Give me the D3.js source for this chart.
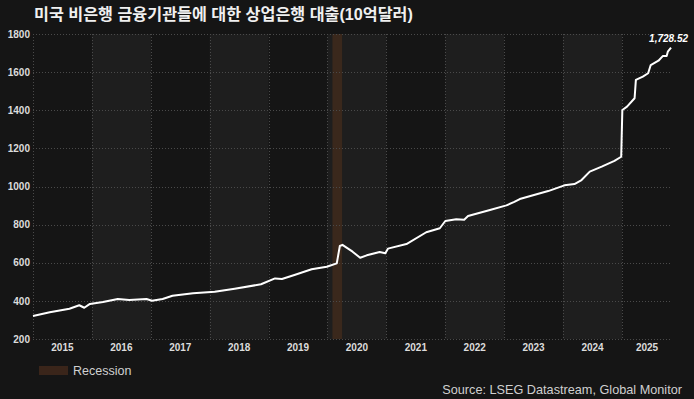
<!DOCTYPE html>
<html>
<head>
<meta charset="utf-8">
<script src="https://cdn.jsdelivr.net/npm/d3@7"></script>
<style>
  html, body { margin: 0; padding: 0; background: #151515; }
  svg { display: block; }
</style>
</head>
<body>
<div id="chart"></div>
<script>
const titleText = "미국 비은행 금융기관들에 대한 상업은행 대출(10억달러)";
const sourceText = "Source: LSEG Datastream, Global Monitor";
const legendLabel = "Recession";
const lastLabel = "1,728.52";

const dates = [
  "2015-01-01","2015-04-15","2015-08-15","2015-10-15","2015-11-15","2015-12-20",
  "2016-03-10","2016-06-10","2016-08-20","2016-12-05","2017-01-08","2017-03-15",
  "2017-05-15","2017-09-20","2018-02-01","2018-06-05","2018-11-15","2019-02-10",
  "2019-03-25","2019-06-15","2019-09-25","2019-12-28","2020-02-28","2020-03-18",
  "2020-04-03","2020-06-05","2020-07-22","2020-09-01","2020-11-20","2020-12-25",
  "2021-01-10","2021-05-05","2021-09-05","2021-11-28","2022-01-01","2022-03-10",
  "2022-04-28","2022-05-22","2022-10-05","2023-01-15","2023-03-05","2023-04-08",
  "2023-10-01","2024-01-10","2024-03-12","2024-04-25","2024-06-15","2024-08-28",
  "2024-11-15","2024-12-27","2025-01-03","2025-02-01","2025-03-20","2025-03-28",
  "2025-05-10","2025-06-12","2025-06-28","2025-08-15","2025-09-12","2025-10-05",
  "2025-10-12","2025-11-01"
];
const values = [
  321,340,359,377,364,384,
  394,410,405,410,401,410,
  427,440,448,464,487,518,
  515,537,566,579,597,688,
  694,658,626,639,656,650,
  674,698,760,781,819,828,
  826,845,877,901,919,934,
  976,1006,1013,1034,1078,1104,
  1134,1156,1401,1419,1463,1559,
  1576,1594,1637,1660,1685,1685,
  1707,1728.52
];
const yTicks = [200,400,600,800,1000,1200,1400,1600,1800];
const years = [2015,2016,2017,2018,2019,2020,2021,2022,2023,2024,2025];
const recession = ["2020-02-01","2020-04-01"];

(function () {
const W = 694, H = 399;
const parse = d3.timeParse("%Y-%m-%d");
const data = dates.map((d,i) => ({date: parse(d), value: values[i]}));

const pL = 33, pR = 672, pT = 34, pB = 339;
const x = d3.scaleTime()
  .domain([parse("2015-01-01"), parse("2025-11-07")])
  .range([pL, pR]);
const y = d3.scaleLinear().domain([200,1800]).range([pB, pT]);

const svg = d3.select("#chart").append("svg")
  .attr("width", W).attr("height", H);

svg.append("rect").attr("width", W).attr("height", H).attr("fill", "#151515");

years.forEach(yr => {
  if (yr % 2 === 0) {
    const x0 = Math.max(pL, x(new Date(yr,0,1)));
    const x1 = Math.min(pR, x(new Date(yr+1,0,1)));
    svg.append("rect").attr("x", x0).attr("y", pT)
      .attr("width", x1 - x0).attr("height", pB - pT)
      .attr("fill", "#1e1e1e");
  }
});

const r0 = x(parse(recession[0])), r1 = x(parse(recession[1]));
svg.append("rect").attr("x", r0).attr("y", pT).attr("width", r1 - r0)
  .attr("height", pB - pT).attr("fill", "#3a281c");

const gridColor = "#4a4a4a";
svg.append("g").selectAll("line").data(yTicks).join("line")
  .attr("x1", pL).attr("x2", pR)
  .attr("y1", d => Math.round(y(d)) + 0.5).attr("y2", d => Math.round(y(d)) + 0.5)
  .attr("stroke", gridColor).attr("stroke-width", 1)
  .attr("stroke-dasharray", "1,2");

const vlines = years.map(yr => new Date(yr,0,1));
svg.append("g").selectAll("line").data(vlines).join("line")
  .attr("x1", d => Math.round(x(d)) + 0.5).attr("x2", d => Math.round(x(d)) + 0.5)
  .attr("y1", pT).attr("y2", pB)
  .attr("stroke", gridColor).attr("stroke-width", 1)
  .attr("stroke-dasharray", "1,2");

const yAxis = d3.axisLeft(y).tickValues(yTicks).tickFormat(d3.format("d"))
  .tickSize(0).tickPadding(3);
const gy = svg.append("g").attr("transform", `translate(${pL},0)`).call(yAxis);
gy.select(".domain").remove();
gy.selectAll("text").attr("fill", "#dcdcdc")
  .style("font-family", "Arial, 'Liberation Sans', sans-serif")
  .style("font-size", "10px").style("font-weight", "bold");

svg.append("g").selectAll("text").data(years).join("text")
  .attr("x", d => {
    const x0 = Math.max(pL, x(new Date(d,0,1)));
    const x1 = Math.min(pR, x(new Date(d+1,0,1)));
    return (x0 + x1) / 2;
  })
  .attr("y", 351)
  .attr("text-anchor", "middle")
  .attr("fill", "#dcdcdc")
  .style("font-family", "Arial, 'Liberation Sans', sans-serif")
  .style("font-size", "10px").style("font-weight", "bold")
  .text(d => d);

const line = d3.line().x(d => x(d.date)).y(d => y(d.value));
svg.append("path").datum(data)
  .attr("d", line)
  .attr("fill", "none").attr("stroke", "#ffffff")
  .attr("stroke-width", 2).attr("stroke-linejoin", "round");

const last = data[data.length - 1];
svg.append("text")
  .attr("x", x(last.date) + 17).attr("y", y(last.value) - 6)
  .attr("text-anchor", "end")
  .attr("fill", "#ffffff")
  .style("font-family", "Arial, 'Liberation Sans', sans-serif")
  .style("font-size", "10px").style("font-weight", "bold").style("font-style", "italic")
  .text(lastLabel);

svg.append("text").attr("x", 34).attr("y", 20)
  .attr("fill", "#f0f0f0")
  .style("font-family", "Arial, 'Noto Sans CJK KR', sans-serif")
  .style("font-size", "16.2px").style("font-weight", "bold")
  .text(titleText);

svg.append("rect").attr("x", 39).attr("y", 366).attr("width", 29).attr("height", 9)
  .attr("fill", "#3a251a");
svg.append("text").attr("x", 73).attr("y", 375)
  .attr("fill", "#d0d0d0")
  .style("font-family", "Arial, 'Liberation Sans', sans-serif")
  .style("font-size", "12.5px")
  .text(legendLabel);

svg.append("text").attr("x", 682).attr("y", 394)
  .attr("text-anchor", "end")
  .attr("fill", "#d0d0d0")
  .style("font-family", "Arial, 'Liberation Sans', sans-serif")
  .style("font-size", "12.7px")
  .text(sourceText);
})();
</script>
</body>
</html>
